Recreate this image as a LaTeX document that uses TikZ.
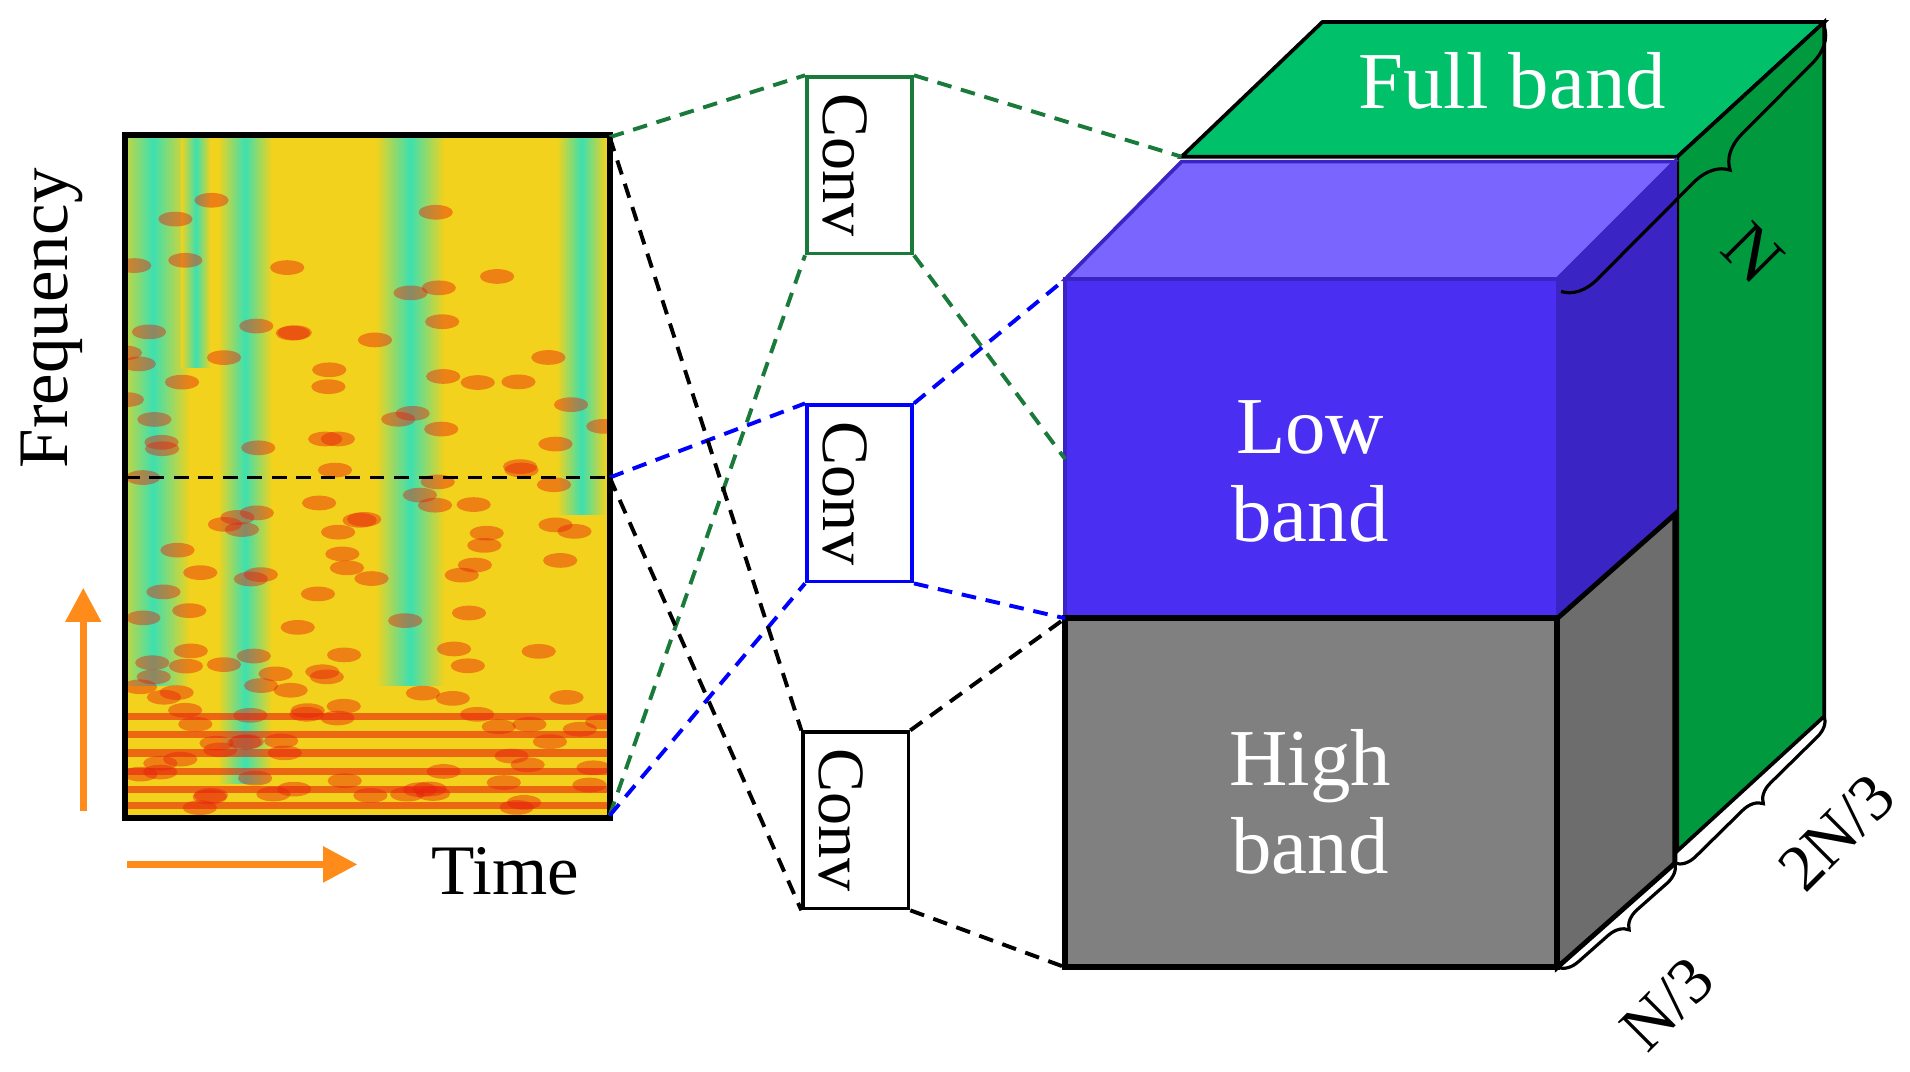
\documentclass[tikz,border=0pt]{standalone}
\usepackage{fontspec}
\setmainfont{Liberation Serif}
\usetikzlibrary{decorations.pathreplacing,arrows.meta}
\definecolor{gfront}{HTML}{00C06A}
\definecolor{gside}{HTML}{00993E}
\definecolor{bfront}{HTML}{4A2EF2}
\definecolor{btop}{HTML}{7A66FF}
\definecolor{bside}{HTML}{3B24C4}
\definecolor{dgreen}{HTML}{1A7A3A}
\definecolor{org}{HTML}{FF8C1A}
\definecolor{sy}{HTML}{F2D21C}
\definecolor{sc}{HTML}{3CE0B0}
\definecolor{sr}{HTML}{E8200C}
\tikzset{
  cl/.style={dashed,line width=1.6pt,dash pattern=on 6pt off 4pt},
  conv/.style={draw,line width=1.5pt,minimum width=43pt,minimum height=72pt,inner sep=0pt},
  lbl/.style={text=white,font=\fontsize{33}{36}\selectfont,align=center},
  br/.style={decorate,decoration={brace,amplitude=8pt},line width=1.3pt},
}
\begin{document}
\begin{tikzpicture}[x=0.5pt,y=-0.5pt]
\useasboundingbox (0,0) rectangle (1560,875);
% spectrogram
\begin{scope}
\clip (102,110) rectangle (498,668);
\fill[sy] (102,110) rectangle (498,668);
\foreach \x/\w/\b in {125/30/560,200/22/640,335/28/560,475/20/420,160/12/300}{
  \shade[left color=sy,right color=sy,middle color=sc] (\x-\w,110) rectangle (\x+\w,\b);}
\pgfmathsetseed{7}
\foreach \i in {1,...,140}{
  \pgfmathsetmacro{\px}{102+396*rnd}
  \pgfmathsetmacro{\py}{130+530*rnd^0.6}
  \fill[sr,opacity=0.45] (\px,\py) ellipse (14 and 6);}
\foreach \y in {585,600,615,630,645,658}{\draw[sr,line width=3pt,opacity=0.6] (102,\y) -- (498,\y);}
\end{scope}
\node[draw,line width=2.5pt,minimum width=198pt,minimum height=279pt,inner sep=0pt] (spec) at (300,389) {};
\coordinate (sTR) at (498,112);
\coordinate (sBR) at (498,666);
\coordinate (sMR) at (498,390);
\coordinate (sML) at (102,390);
\draw[cl,black] (sML) -- (sMR);
\node[rotate=90,font=\fontsize{29}{32}\selectfont] (freq) at (42,260) {Frequency};
\coordinate (ua) at (68,662); \coordinate (ub) at (68,480);
\draw[org,line width=3pt,-{Triangle[length=14pt,width=14pt]}] (ua) -- (ub);
\coordinate (ra) at (104,706); \coordinate (rb) at (292,706);
\draw[org,line width=3pt,-{Triangle[length=14pt,width=14pt]}] (ra) -- (rb);
\node[font=\fontsize{29}{32}\selectfont] (time) at (413,712) {Time};
% conv boxes
\foreach \n/\x/\y/\c in {c1/702/135/dgreen,c2/702/403/blue,c3/699/670/black}{
  \node[conv,draw=\c] (\n) at (\x,\y) {};
  \begin{scope}\clip (\n.north west) rectangle (\n.south east);
  \node[rotate=-90,font=\fontsize{27}{30}\selectfont,yshift=-6pt] at (\n) {Conv};
  \end{scope}}
% boxes
\coordinate (g1) at (965,128); \coordinate (g2) at (1080,18); \coordinate (g3) at (1490,18);
\coordinate (g4) at (1370,128); \coordinate (g5) at (1490,585); \coordinate (g6) at (1370,695);
\fill[gfront,draw=black,line width=1.5pt] (g1)--(g2)--(g3)--(g4)--cycle;
\fill[gside,draw=black,line width=1.5pt] (g4)--(g3)--(g5)--(g6)--cycle;
\coordinate (b1) at (870,228); \coordinate (b2) at (965,132); \coordinate (b3) at (1368,132);
\coordinate (b4) at (1272,228); \coordinate (b5) at (1368,420); \coordinate (b6) at (1272,505);
\coordinate (b7) at (870,505);
\fill[btop,draw=bside,line width=1.5pt] (b1)--(b2)--(b3)--(b4)--cycle;
\fill[bside,draw=bside,line width=1.5pt] (b4)--(b3)--(b5)--(b6)--cycle;
\fill[bfront,draw=bside,line width=1.5pt] (b1) rectangle (b6);
\coordinate (h1) at (1368,705); \coordinate (h2) at (1272,790); \coordinate (h3) at (870,790);
\fill[gray!65!black!85,draw=black,line width=2pt] (b6)--(b5)--(h1)--(h2)--cycle;
\fill[gray,draw=black,line width=2.5pt] (b7) rectangle (h2);
\node[lbl] (fb) at (1235,66) {Full band};
\node[lbl] (lb) at (1070,385) {Low\\band};
\node[lbl] (hb) at (1070,655) {High\\band};
% connectors
\draw[cl,dgreen] (sTR) -- (c1.north west);
\draw[cl,dgreen] (c1.north east) -- (g1);
\draw[cl,dgreen] (sBR) -- (c1.south west);
\draw[cl,dgreen] (c1.south east) -- (870,375);
\draw[cl,blue] (sMR) -- (c2.north west);
\draw[cl,blue] (sBR) -- (c2.south west);
\draw[cl,blue] (c2.north east) -- (b1);
\draw[cl,blue] (c2.south east) -- (b7);
\draw[cl,black] (sTR) -- (c3.north west);
\draw[cl,black] (sMR) -- (c3.south west);
\draw[cl,black] (c3.north east) -- (b7);
\draw[cl,black] (c3.south east) -- (h3);
% braces
\coordinate (n1) at (1490,22); \coordinate (n2) at (1275,238);
\draw[br,decoration={amplitude=14pt,aspect=0.45}] (n1) -- (n2);
\node[rotate=-45,font=\fontsize{29}{32}\selectfont] (nl) at (1432,207) {N};
\draw[br] (h1) -- (h2);
\node[rotate=45,font=\fontsize{27}{30}\selectfont] (n3) at (1362,820) {N/3};
\draw[br] (g5) -- (h1);
\node[rotate=45,font=\fontsize{27}{30}\selectfont] (n23) at (1500,680) {2N/3};
\end{tikzpicture}
\end{document}
